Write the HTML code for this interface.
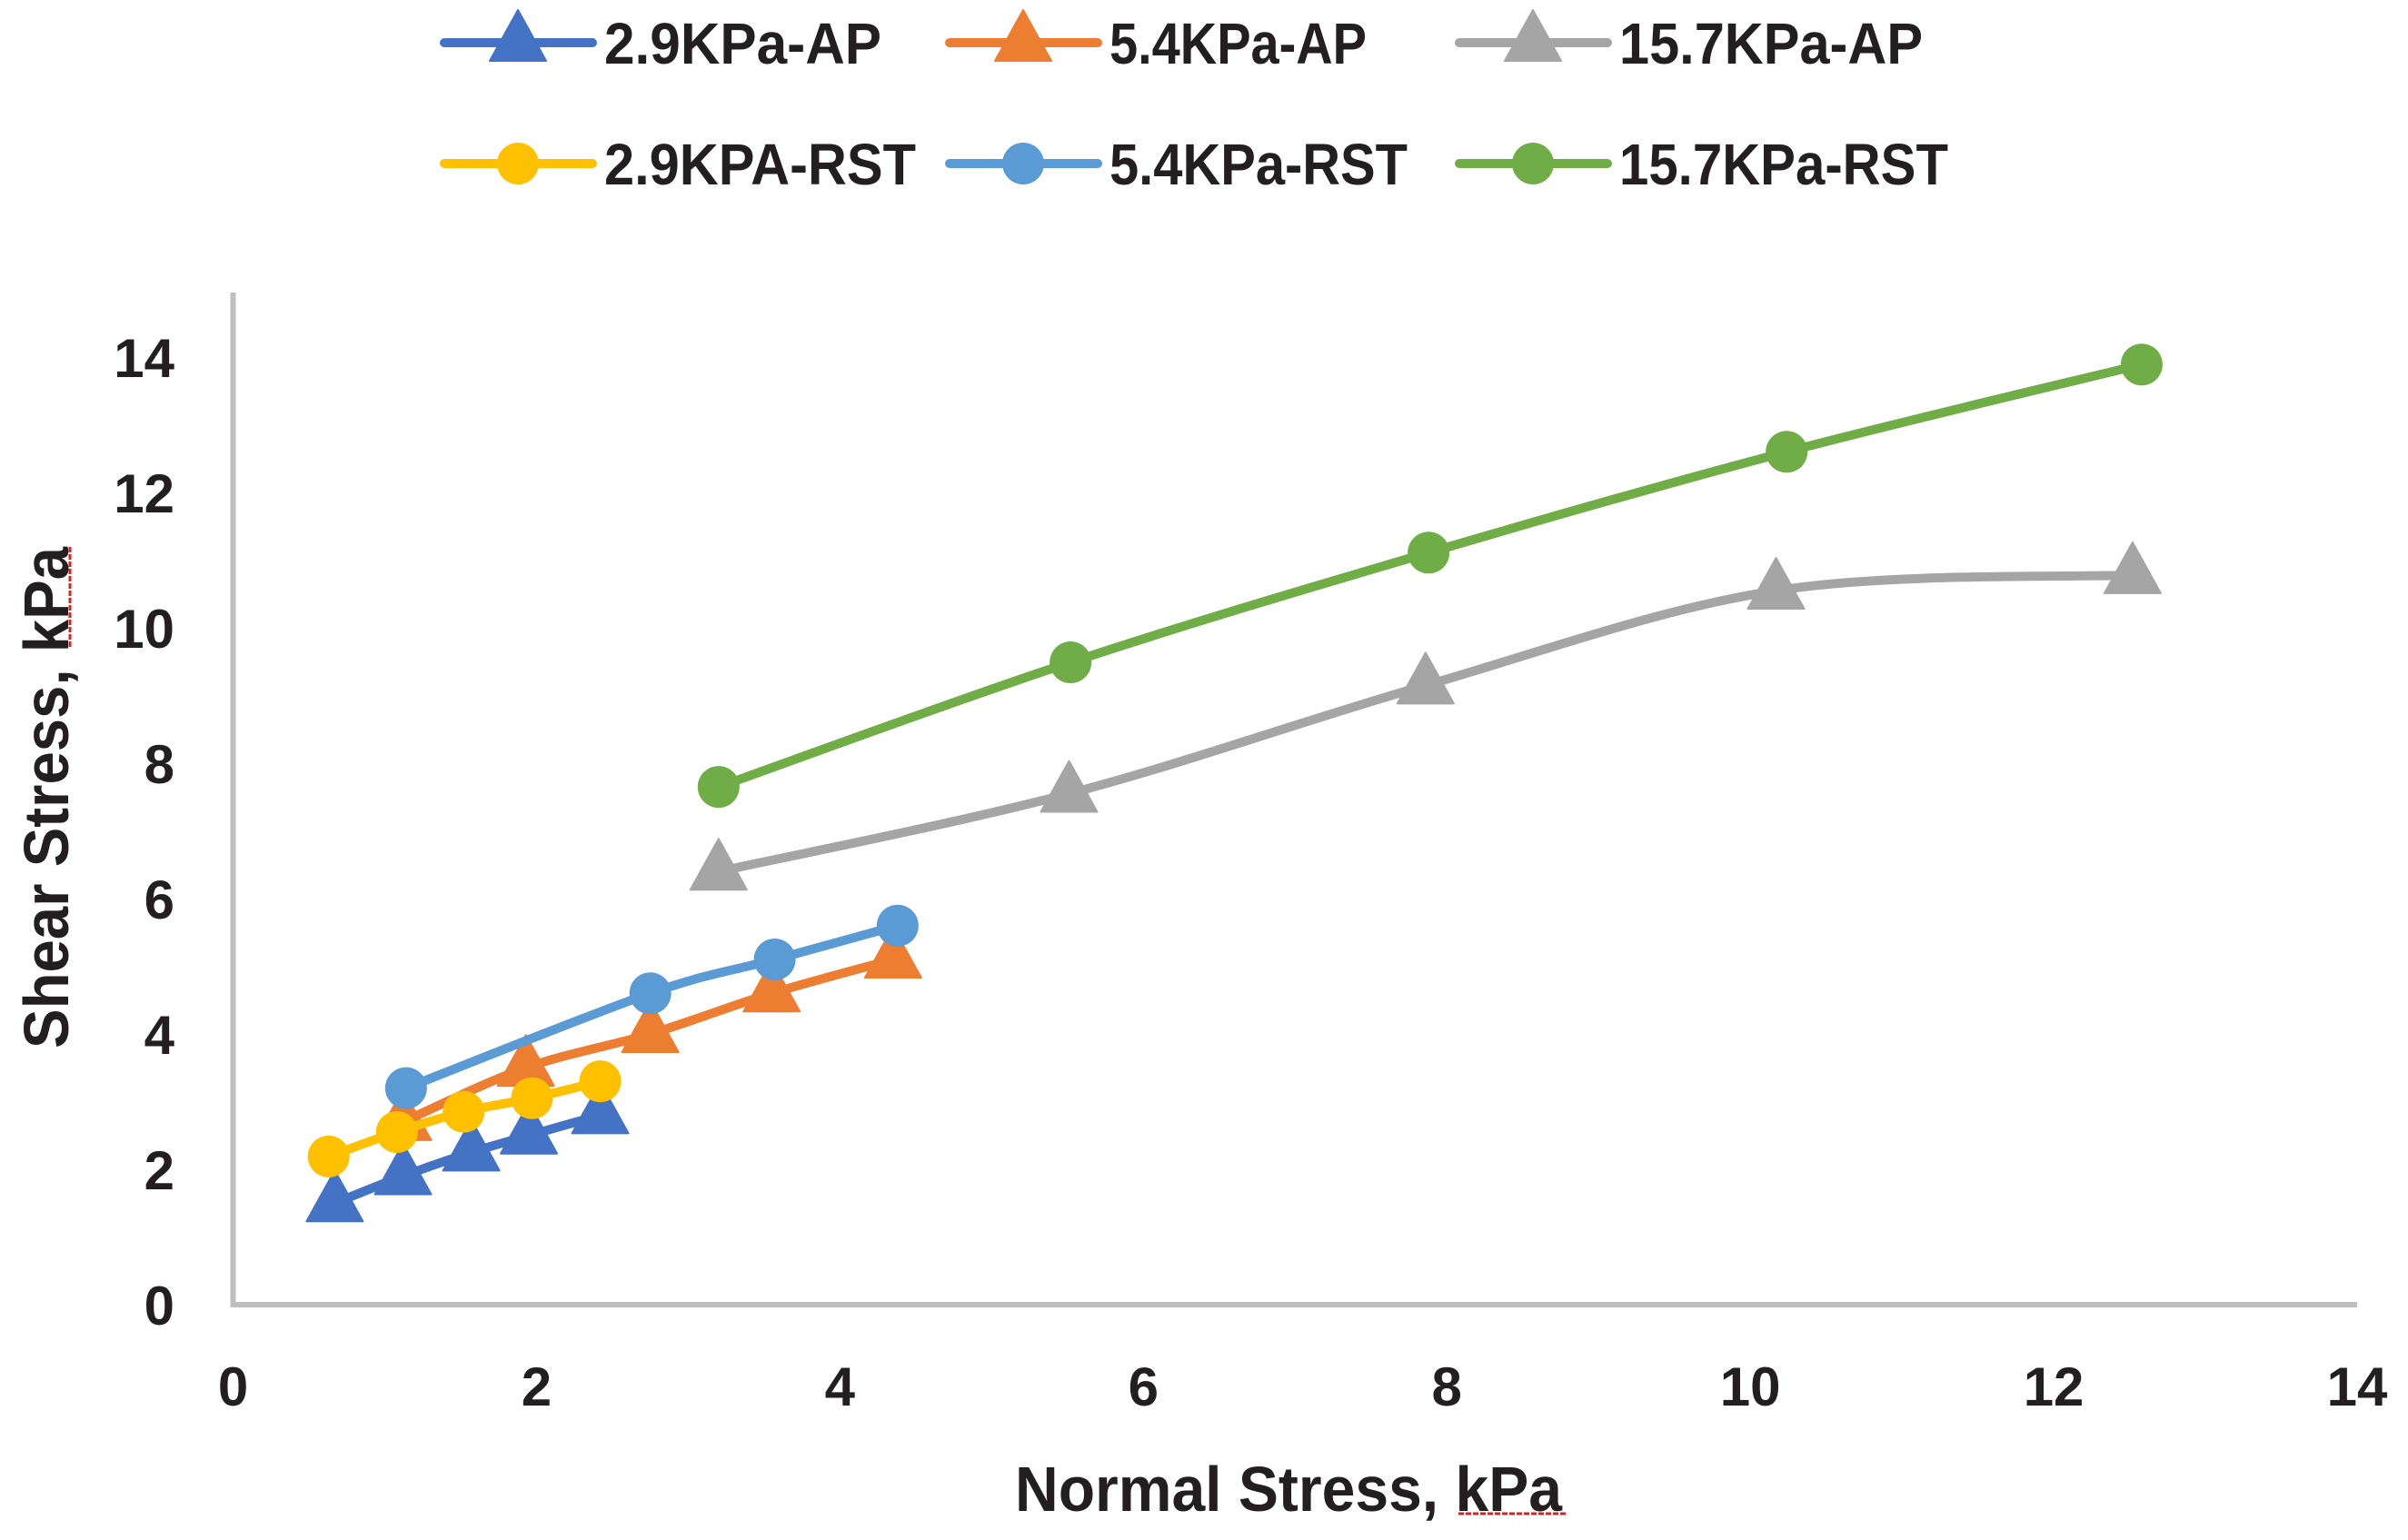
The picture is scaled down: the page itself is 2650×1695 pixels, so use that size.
<!DOCTYPE html>
<html><head><meta charset="utf-8"><style>
html,body{margin:0;padding:0;background:#fff;}
svg{display:block;}
text{font-family:"Liberation Sans",sans-serif;font-weight:bold;fill:#231f20;}
</style></head><body>
<svg id="chart" width="2650" height="1695" viewBox="0 0 2650 1695" xmlns="http://www.w3.org/2000/svg">
<g id="legend"></g>
<g id="axes"></g>
<g id="series"></g>
<text x="1418" y="1663" font-size="70" text-anchor="middle" textLength="602" lengthAdjust="spacingAndGlyphs">Normal Stress, kPa</text>
<line x1="1605" y1="1666" x2="1725" y2="1666" stroke="#e02020" stroke-width="3" stroke-dasharray="6,2"/>
<text transform="translate(75,878) rotate(-90)" font-size="70" text-anchor="middle" textLength="552" lengthAdjust="spacingAndGlyphs">Shear Stress, kPa</text>
<line x1="77" y1="602" x2="77" y2="712" stroke="#e02020" stroke-width="3" stroke-dasharray="6,2"/>
</svg>
<script>
const xTicks = [0, 2, 4, 6, 8, 10, 12, 14];
const yTicks = [0, 2, 4, 6, 8, 10, 12, 14];
const seriesNames = ["2.9KPa-AP", "5.4KPa-AP", "15.7KPa-AP", "2.9KPA-RST", "5.4KPa-RST", "15.7KPa-RST"];
const seriesColors = ["#4472c4", "#ed7d31", "#a5a5a5", "#ffc000", "#5b9bd5", "#70ad47"];
const seriesMarkers = ["tri", "tri", "tri", "circ", "circ", "circ"];
const ap29X = [0.67, 1.12, 1.57, 1.95, 2.42];
const ap29Y = [1.5, 1.9, 2.25, 2.5, 2.8];
const ap54X = [1.12, 1.93, 2.75, 3.55, 4.35];
const ap54Y = [2.7, 3.5, 4.0, 4.6, 5.1];
const ap157X = [3.2, 5.51, 7.86, 10.17, 12.52];
const ap157Y = [6.4, 7.55, 9.15, 10.55, 10.78];
const rst29X = [0.63, 1.08, 1.52, 1.97, 2.42];
const rst29Y = [2.19, 2.55, 2.85, 3.05, 3.3];
const rst54X = [1.14, 2.75, 3.57, 4.38];
const rst54Y = [3.2, 4.6, 5.1, 5.6];
const rst157X = [3.2, 5.52, 7.88, 10.24, 12.58];
const rst157Y = [7.65, 9.49, 11.11, 12.6, 13.89];
const seriesX = [ap29X, ap54X, ap157X, rst29X, rst54X, rst157X];
const seriesY = [ap29Y, ap54Y, ap157Y, rst29Y, rst54Y, rst157Y];

const NS = "http://www.w3.org/2000/svg";
const X0 = 256.5, X1 = 2594, Y0 = 1436, Y1 = 393;
const xs = v => X0 + (X1 - X0) * v / 14;
const ys = v => Y0 - (Y0 - Y1) * v / 14;
function mk(tag, attrs, parent) {
  const e = document.createElementNS(NS, tag);
  for (const k in attrs) e.setAttribute(k, attrs[k]);
  parent.appendChild(e);
  return e;
}
const axes = document.getElementById('axes');
let l = mk('line', {x1: X0, y1: 322, x2: X0, y2: Y0, stroke: '#bfbfbf', 'stroke-width': 6}, axes);


l = mk('line', {x1: X0 - 3, y1: Y0, x2: X1, y2: Y0, stroke: '#bfbfbf', 'stroke-width': 6}, axes);


xTicks.forEach(v => {
  const t = mk('text', {x: xs(v), y: 1547, 'font-size': 60, 'text-anchor': 'middle'}, axes);
  t.textContent = v;
  
  
});
yTicks.forEach(v => {
  const t = mk('text', {x: 192, y: ys(v) + 22, 'font-size': 60, 'text-anchor': 'end'}, axes);
  t.textContent = v;
  
  
});
function pathFor(px, py) {
  let d = `M${px[0]},${py[0]}`;
  for (let i = 0; i < px.length - 1; i++) {
    const p0x = px[Math.max(i - 1, 0)], p0y = py[Math.max(i - 1, 0)];
    const p3x = px[Math.min(i + 2, px.length - 1)], p3y = py[Math.min(i + 2, px.length - 1)];
    const c1x = px[i] + (px[i + 1] - p0x) / 6, c1y = py[i] + (py[i + 1] - p0y) / 6;
    const c2x = px[i + 1] - (p3x - px[i]) / 6, c2y = py[i + 1] - (p3y - py[i]) / 6;
    d += ` C${c1x},${c1y} ${c2x},${c2y} ${px[i + 1]},${py[i + 1]}`;
  }
  return d;
}
function marker(type, cx, cy, color, parent) {
  let m;
  if (type === 'tri') {
    m = mk('polygon', {points: `${cx},${cy - 36} ${cx - 31},${cy + 20} ${cx + 31},${cy + 20}`, fill: color, 'stroke-linejoin': 'round', stroke: color, 'stroke-width': 2}, parent);
  } else {
    m = mk('circle', {cx: cx, cy: cy, r: 23, fill: color}, parent);
  }
  return m;
}
const sg = document.getElementById('series');
const order = [2, 5, 1, 4, 0, 3];
order.forEach(s => {
  const g = mk('g', {}, sg);
  
  
  const px = seriesX[s].map(xs), py = seriesY[s].map(ys);
  const p = mk('path', {d: pathFor(px, py), fill: 'none', stroke: seriesColors[s], 'stroke-width': 10, 'stroke-linecap': 'round'}, g);
  
  
  px.forEach((x, i) => {
    const m = marker(seriesMarkers[s], x, py[i], seriesColors[s], g);
    
    
  });
});
const lg = document.getElementById('legend');
const legX = [489, 1045, 1606];
const legY = [47, 180];
const legW = [305, 283, 334, 343, 328, 362];
seriesNames.forEach((n, i) => {
  const col = i % 3, row = Math.floor(i / 3);
  const g = mk('g', {}, lg);
  
  
  const x = legX[col], y = legY[row];
  mk('line', {x1: x, y1: y, x2: x + 163, y2: y, stroke: seriesColors[i], 'stroke-width': 10, 'stroke-linecap': 'round'}, g);
  marker(seriesMarkers[i], x + 81, y, seriesColors[i], g);
  const t = mk('text', {x: x + 176, y: y + 23, 'font-size': 64, textLength: legW[i], lengthAdjust: 'spacingAndGlyphs'}, g);
  t.textContent = n;
  
  
});
</script>
</body></html>
